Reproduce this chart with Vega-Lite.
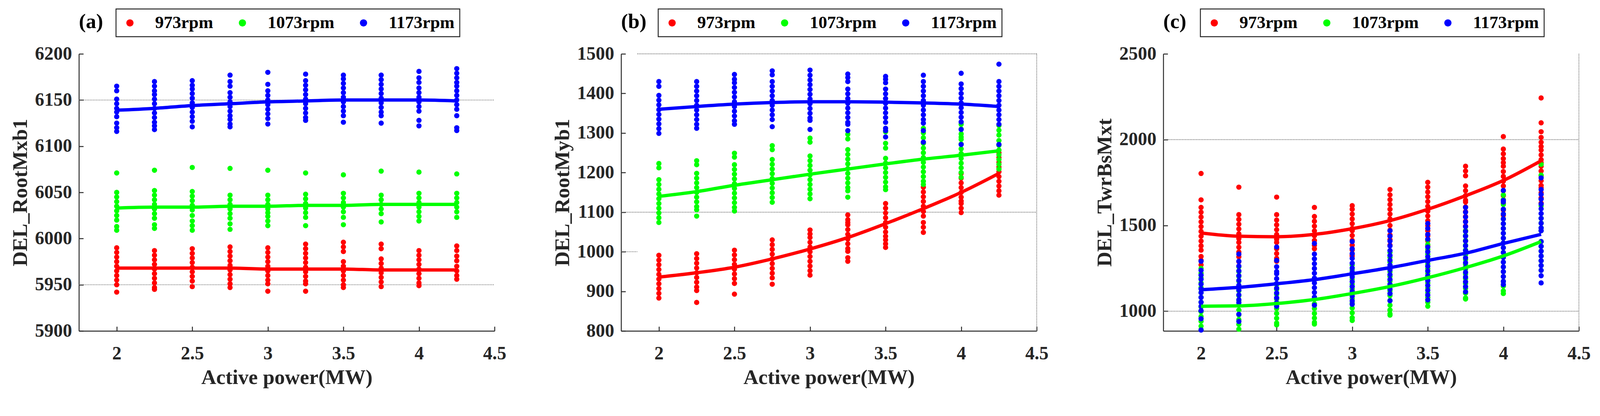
{
"$schema": "https://vega.github.io/schema/vega-lite/v6.json",
"background": "white",
"padding": {"left": 25, "top": 21, "right": 10, "bottom": 10},
"config": {
  "font": "Liberation Serif",
  "view": {"stroke": null},
  "axis": {"domainColor": "#262626", "domainWidth": 2.4, "tickColor": "#262626", "tickWidth": 2.4, "tickSize": -11.4, "labelFont": "Liberation Serif", "labelFontWeight": "bold", "labelFontSize": 47.5, "labelColor": "#262626", "titleFont": "Liberation Serif", "titleFontWeight": "bold", "titleFontSize": 53.2, "titleColor": "#262626", "grid": false, "labelFlush": false, "labelOverlap": false},
  "axisX": {"labelPadding": 45.6, "titlePadding": 11.4, "format": ".1~f"},
  "axisY": {"labelPadding": 29.5, "titlePadding": 9.5, "format": "d"},
  "legend": {"orient": "none", "direction": "horizontal", "legendX": 95, "legendY": -115, "padding": 13.3, "strokeColor": "#262626", "strokeWidth": 2.4, "fillColor": "white", "symbolType": "circle", "symbolSize": 343, "symbolStrokeWidth": 0, "symbolOpacity": 1, "labelFont": "Liberation Serif", "labelFontWeight": "bold", "labelFontSize": 44.6, "labelColor": "black", "labelOffset": 42, "columnPadding": 52, "labelLimit": 0, "title": null},
  "title": {"font": "Liberation Serif", "fontWeight": "bold", "fontSize": 53, "color": "black", "anchor": "start", "frame": "group", "baseline": "alphabetic", "offset": -61}
},
"datasets": {
"grid": [
{"p":"a","x1":1.75,"x2":4.5,"y1":6150,"y2":6150},
{"p":"a","x1":1.75,"x2":4.5,"y1":5950,"y2":5950},
{"p":"b","x1":1.857,"x2":4.5,"y1":1500,"y2":1500},
{"p":"b","x1":1.75,"x2":4.5,"y1":1100,"y2":1100},
{"p":"b","x1":1.75,"x2":1.857,"y1":1000,"y2":1000},
{"p":"b","x1":4.5,"x2":4.5,"y1":800,"y2":1500},
{"p":"c","x1":1.75,"x2":4.5,"y1":2000,"y2":2000},
{"p":"c","x1":1.75,"x2":4.5,"y1":1000,"y2":1000},
{"p":"c","x1":4.5,"x2":4.5,"y1":885,"y2":2500}
],
"fit": [
{"p":"a","s":"973rpm","x":2,"y":5968},{"p":"a","s":"973rpm","x":2.25,"y":5968},{"p":"a","s":"973rpm","x":2.5,"y":5968},{"p":"a","s":"973rpm","x":2.75,"y":5968},{"p":"a","s":"973rpm","x":3,"y":5967},{"p":"a","s":"973rpm","x":3.25,"y":5967},{"p":"a","s":"973rpm","x":3.5,"y":5967},{"p":"a","s":"973rpm","x":3.75,"y":5966},{"p":"a","s":"973rpm","x":4,"y":5966},{"p":"a","s":"973rpm","x":4.25,"y":5966},
{"p":"a","s":"1073rpm","x":2,"y":6033},{"p":"a","s":"1073rpm","x":2.25,"y":6034},{"p":"a","s":"1073rpm","x":2.5,"y":6034},{"p":"a","s":"1073rpm","x":2.75,"y":6035},{"p":"a","s":"1073rpm","x":3,"y":6035},{"p":"a","s":"1073rpm","x":3.25,"y":6036},{"p":"a","s":"1073rpm","x":3.5,"y":6036},{"p":"a","s":"1073rpm","x":3.75,"y":6037},{"p":"a","s":"1073rpm","x":4,"y":6037},{"p":"a","s":"1073rpm","x":4.25,"y":6037},
{"p":"a","s":"1173rpm","x":2,"y":6139},{"p":"a","s":"1173rpm","x":2.25,"y":6141},{"p":"a","s":"1173rpm","x":2.5,"y":6144},{"p":"a","s":"1173rpm","x":2.75,"y":6146},{"p":"a","s":"1173rpm","x":3,"y":6148},{"p":"a","s":"1173rpm","x":3.25,"y":6149},{"p":"a","s":"1173rpm","x":3.5,"y":6150},{"p":"a","s":"1173rpm","x":3.75,"y":6150},{"p":"a","s":"1173rpm","x":4,"y":6150},{"p":"a","s":"1173rpm","x":4.25,"y":6149},
{"p":"b","s":"973rpm","x":2,"y":936},{"p":"b","s":"973rpm","x":2.25,"y":947},{"p":"b","s":"973rpm","x":2.5,"y":961},{"p":"b","s":"973rpm","x":2.75,"y":982},{"p":"b","s":"973rpm","x":3,"y":1007},{"p":"b","s":"973rpm","x":3.25,"y":1036},{"p":"b","s":"973rpm","x":3.5,"y":1071},{"p":"b","s":"973rpm","x":3.75,"y":1109},{"p":"b","s":"973rpm","x":4,"y":1150},{"p":"b","s":"973rpm","x":4.25,"y":1198},
{"p":"b","s":"1073rpm","x":2,"y":1140},{"p":"b","s":"1073rpm","x":2.25,"y":1152},{"p":"b","s":"1073rpm","x":2.5,"y":1168},{"p":"b","s":"1073rpm","x":2.75,"y":1182},{"p":"b","s":"1073rpm","x":3,"y":1196},{"p":"b","s":"1073rpm","x":3.25,"y":1209},{"p":"b","s":"1073rpm","x":3.5,"y":1222},{"p":"b","s":"1073rpm","x":3.75,"y":1234},{"p":"b","s":"1073rpm","x":4,"y":1244},{"p":"b","s":"1073rpm","x":4.25,"y":1255},
{"p":"b","s":"1173rpm","x":2,"y":1360},{"p":"b","s":"1173rpm","x":2.25,"y":1367},{"p":"b","s":"1173rpm","x":2.5,"y":1373},{"p":"b","s":"1173rpm","x":2.75,"y":1377},{"p":"b","s":"1173rpm","x":3,"y":1379},{"p":"b","s":"1173rpm","x":3.25,"y":1379},{"p":"b","s":"1173rpm","x":3.5,"y":1378},{"p":"b","s":"1173rpm","x":3.75,"y":1376},{"p":"b","s":"1173rpm","x":4,"y":1373},{"p":"b","s":"1173rpm","x":4.25,"y":1367},
{"p":"c","s":"973rpm","x":2,"y":1456},{"p":"c","s":"973rpm","x":2.25,"y":1437},{"p":"c","s":"973rpm","x":2.5,"y":1434},{"p":"c","s":"973rpm","x":2.75,"y":1448},{"p":"c","s":"973rpm","x":3,"y":1481},{"p":"c","s":"973rpm","x":3.25,"y":1528},{"p":"c","s":"973rpm","x":3.5,"y":1594},{"p":"c","s":"973rpm","x":3.75,"y":1673},{"p":"c","s":"973rpm","x":4,"y":1762},{"p":"c","s":"973rpm","x":4.25,"y":1877},
{"p":"c","s":"1073rpm","x":2,"y":1029},{"p":"c","s":"1073rpm","x":2.25,"y":1031},{"p":"c","s":"1073rpm","x":2.5,"y":1045},{"p":"c","s":"1073rpm","x":2.75,"y":1068},{"p":"c","s":"1073rpm","x":3,"y":1103},{"p":"c","s":"1073rpm","x":3.25,"y":1144},{"p":"c","s":"1073rpm","x":3.5,"y":1195},{"p":"c","s":"1073rpm","x":3.75,"y":1254},{"p":"c","s":"1073rpm","x":4,"y":1322},{"p":"c","s":"1073rpm","x":4.25,"y":1406},
{"p":"c","s":"1173rpm","x":2,"y":1125},{"p":"c","s":"1173rpm","x":2.25,"y":1139},{"p":"c","s":"1173rpm","x":2.5,"y":1160},{"p":"c","s":"1173rpm","x":2.75,"y":1184},{"p":"c","s":"1173rpm","x":3,"y":1218},{"p":"c","s":"1173rpm","x":3.25,"y":1254},{"p":"c","s":"1173rpm","x":3.5,"y":1296},{"p":"c","s":"1173rpm","x":3.75,"y":1338},{"p":"c","s":"1173rpm","x":4,"y":1395},{"p":"c","s":"1173rpm","x":4.25,"y":1448}
],
"pts": [
{"p":"a","s":"973rpm","x":2,"y":5990},{"p":"a","s":"973rpm","x":2,"y":5985},{"p":"a","s":"973rpm","x":2,"y":5980},{"p":"a","s":"973rpm","x":2,"y":5975},{"p":"a","s":"973rpm","x":2,"y":5970},{"p":"a","s":"973rpm","x":2,"y":5965},{"p":"a","s":"973rpm","x":2,"y":5960},{"p":"a","s":"973rpm","x":2,"y":5955},{"p":"a","s":"973rpm","x":2,"y":5950},{"p":"a","s":"973rpm","x":2,"y":5942},
{"p":"a","s":"973rpm","x":2.25,"y":5987},{"p":"a","s":"973rpm","x":2.25,"y":5982},{"p":"a","s":"973rpm","x":2.25,"y":5977},{"p":"a","s":"973rpm","x":2.25,"y":5972},{"p":"a","s":"973rpm","x":2.25,"y":5967},{"p":"a","s":"973rpm","x":2.25,"y":5962},{"p":"a","s":"973rpm","x":2.25,"y":5957},{"p":"a","s":"973rpm","x":2.25,"y":5952},{"p":"a","s":"973rpm","x":2.25,"y":5947},{"p":"a","s":"973rpm","x":2.25,"y":5945},
{"p":"a","s":"973rpm","x":2.5,"y":5989},{"p":"a","s":"973rpm","x":2.5,"y":5984},{"p":"a","s":"973rpm","x":2.5,"y":5979},{"p":"a","s":"973rpm","x":2.5,"y":5974},{"p":"a","s":"973rpm","x":2.5,"y":5969},{"p":"a","s":"973rpm","x":2.5,"y":5964},{"p":"a","s":"973rpm","x":2.5,"y":5959},{"p":"a","s":"973rpm","x":2.5,"y":5954},{"p":"a","s":"973rpm","x":2.5,"y":5948},
{"p":"a","s":"973rpm","x":2.75,"y":5991},{"p":"a","s":"973rpm","x":2.75,"y":5986},{"p":"a","s":"973rpm","x":2.75,"y":5981},{"p":"a","s":"973rpm","x":2.75,"y":5976},{"p":"a","s":"973rpm","x":2.75,"y":5971},{"p":"a","s":"973rpm","x":2.75,"y":5966},{"p":"a","s":"973rpm","x":2.75,"y":5961},{"p":"a","s":"973rpm","x":2.75,"y":5956},{"p":"a","s":"973rpm","x":2.75,"y":5951},{"p":"a","s":"973rpm","x":2.75,"y":5947},
{"p":"a","s":"973rpm","x":3,"y":5990},{"p":"a","s":"973rpm","x":3,"y":5985},{"p":"a","s":"973rpm","x":3,"y":5980},{"p":"a","s":"973rpm","x":3,"y":5975},{"p":"a","s":"973rpm","x":3,"y":5970},{"p":"a","s":"973rpm","x":3,"y":5965},{"p":"a","s":"973rpm","x":3,"y":5960},{"p":"a","s":"973rpm","x":3,"y":5955},{"p":"a","s":"973rpm","x":3,"y":5951},{"p":"a","s":"973rpm","x":3,"y":5943},
{"p":"a","s":"973rpm","x":3.25,"y":5994},{"p":"a","s":"973rpm","x":3.25,"y":5989},{"p":"a","s":"973rpm","x":3.25,"y":5984},{"p":"a","s":"973rpm","x":3.25,"y":5979},{"p":"a","s":"973rpm","x":3.25,"y":5974},{"p":"a","s":"973rpm","x":3.25,"y":5969},{"p":"a","s":"973rpm","x":3.25,"y":5964},{"p":"a","s":"973rpm","x":3.25,"y":5959},{"p":"a","s":"973rpm","x":3.25,"y":5954},{"p":"a","s":"973rpm","x":3.25,"y":5951},{"p":"a","s":"973rpm","x":3.25,"y":5943},
{"p":"a","s":"973rpm","x":3.5,"y":5996},{"p":"a","s":"973rpm","x":3.5,"y":5991},{"p":"a","s":"973rpm","x":3.5,"y":5986},{"p":"a","s":"973rpm","x":3.5,"y":5975},{"p":"a","s":"973rpm","x":3.5,"y":5970},{"p":"a","s":"973rpm","x":3.5,"y":5965},{"p":"a","s":"973rpm","x":3.5,"y":5960},{"p":"a","s":"973rpm","x":3.5,"y":5955},{"p":"a","s":"973rpm","x":3.5,"y":5950},{"p":"a","s":"973rpm","x":3.5,"y":5947},
{"p":"a","s":"973rpm","x":3.75,"y":5994},{"p":"a","s":"973rpm","x":3.75,"y":5989},{"p":"a","s":"973rpm","x":3.75,"y":5978},{"p":"a","s":"973rpm","x":3.75,"y":5973},{"p":"a","s":"973rpm","x":3.75,"y":5968},{"p":"a","s":"973rpm","x":3.75,"y":5963},{"p":"a","s":"973rpm","x":3.75,"y":5958},{"p":"a","s":"973rpm","x":3.75,"y":5953},{"p":"a","s":"973rpm","x":3.75,"y":5948},
{"p":"a","s":"973rpm","x":4,"y":5987},{"p":"a","s":"973rpm","x":4,"y":5982},{"p":"a","s":"973rpm","x":4,"y":5977},{"p":"a","s":"973rpm","x":4,"y":5972},{"p":"a","s":"973rpm","x":4,"y":5967},{"p":"a","s":"973rpm","x":4,"y":5962},{"p":"a","s":"973rpm","x":4,"y":5957},{"p":"a","s":"973rpm","x":4,"y":5952},{"p":"a","s":"973rpm","x":4,"y":5949},
{"p":"a","s":"973rpm","x":4.25,"y":5992},{"p":"a","s":"973rpm","x":4.25,"y":5987},{"p":"a","s":"973rpm","x":4.25,"y":5981},{"p":"a","s":"973rpm","x":4.25,"y":5976},{"p":"a","s":"973rpm","x":4.25,"y":5970},{"p":"a","s":"973rpm","x":4.25,"y":5965},{"p":"a","s":"973rpm","x":4.25,"y":5960},{"p":"a","s":"973rpm","x":4.25,"y":5956},
{"p":"b","s":"973rpm","x":2,"y":991},{"p":"b","s":"973rpm","x":2,"y":979},{"p":"b","s":"973rpm","x":2,"y":967},{"p":"b","s":"973rpm","x":2,"y":955},{"p":"b","s":"973rpm","x":2,"y":943},{"p":"b","s":"973rpm","x":2,"y":931},{"p":"b","s":"973rpm","x":2,"y":919},{"p":"b","s":"973rpm","x":2,"y":907},{"p":"b","s":"973rpm","x":2,"y":895},{"p":"b","s":"973rpm","x":2,"y":883},
{"p":"b","s":"973rpm","x":2.25,"y":995},{"p":"b","s":"973rpm","x":2.25,"y":983},{"p":"b","s":"973rpm","x":2.25,"y":971},{"p":"b","s":"973rpm","x":2.25,"y":959},{"p":"b","s":"973rpm","x":2.25,"y":947},{"p":"b","s":"973rpm","x":2.25,"y":935},{"p":"b","s":"973rpm","x":2.25,"y":923},{"p":"b","s":"973rpm","x":2.25,"y":911},{"p":"b","s":"973rpm","x":2.25,"y":902},{"p":"b","s":"973rpm","x":2.25,"y":872},
{"p":"b","s":"973rpm","x":2.5,"y":1004},{"p":"b","s":"973rpm","x":2.5,"y":992},{"p":"b","s":"973rpm","x":2.5,"y":980},{"p":"b","s":"973rpm","x":2.5,"y":968},{"p":"b","s":"973rpm","x":2.5,"y":956},{"p":"b","s":"973rpm","x":2.5,"y":944},{"p":"b","s":"973rpm","x":2.5,"y":932},{"p":"b","s":"973rpm","x":2.5,"y":920},{"p":"b","s":"973rpm","x":2.5,"y":893},
{"p":"b","s":"973rpm","x":2.75,"y":1030},{"p":"b","s":"973rpm","x":2.75,"y":1018},{"p":"b","s":"973rpm","x":2.75,"y":1006},{"p":"b","s":"973rpm","x":2.75,"y":994},{"p":"b","s":"973rpm","x":2.75,"y":982},{"p":"b","s":"973rpm","x":2.75,"y":970},{"p":"b","s":"973rpm","x":2.75,"y":958},{"p":"b","s":"973rpm","x":2.75,"y":946},{"p":"b","s":"973rpm","x":2.75,"y":934},{"p":"b","s":"973rpm","x":2.75,"y":918},
{"p":"b","s":"973rpm","x":3,"y":1055},{"p":"b","s":"973rpm","x":3,"y":1045},{"p":"b","s":"973rpm","x":3,"y":1036},{"p":"b","s":"973rpm","x":3,"y":1024},{"p":"b","s":"973rpm","x":3,"y":1012},{"p":"b","s":"973rpm","x":3,"y":1000},{"p":"b","s":"973rpm","x":3,"y":988},{"p":"b","s":"973rpm","x":3,"y":976},{"p":"b","s":"973rpm","x":3,"y":964},{"p":"b","s":"973rpm","x":3,"y":952},{"p":"b","s":"973rpm","x":3,"y":941},
{"p":"b","s":"973rpm","x":3.25,"y":1093},{"p":"b","s":"973rpm","x":3.25,"y":1081},{"p":"b","s":"973rpm","x":3.25,"y":1074},{"p":"b","s":"973rpm","x":3.25,"y":1068},{"p":"b","s":"973rpm","x":3.25,"y":1056},{"p":"b","s":"973rpm","x":3.25,"y":1044},{"p":"b","s":"973rpm","x":3.25,"y":1032},{"p":"b","s":"973rpm","x":3.25,"y":1020},{"p":"b","s":"973rpm","x":3.25,"y":1008},{"p":"b","s":"973rpm","x":3.25,"y":1001},{"p":"b","s":"973rpm","x":3.25,"y":985},{"p":"b","s":"973rpm","x":3.25,"y":976},
{"p":"b","s":"973rpm","x":3.5,"y":1122},{"p":"b","s":"973rpm","x":3.5,"y":1110},{"p":"b","s":"973rpm","x":3.5,"y":1098},{"p":"b","s":"973rpm","x":3.5,"y":1086},{"p":"b","s":"973rpm","x":3.5,"y":1074},{"p":"b","s":"973rpm","x":3.5,"y":1062},{"p":"b","s":"973rpm","x":3.5,"y":1050},{"p":"b","s":"973rpm","x":3.5,"y":1039},{"p":"b","s":"973rpm","x":3.5,"y":1030},{"p":"b","s":"973rpm","x":3.5,"y":1020},{"p":"b","s":"973rpm","x":3.5,"y":1011},
{"p":"b","s":"973rpm","x":3.75,"y":1163},{"p":"b","s":"973rpm","x":3.75,"y":1151},{"p":"b","s":"973rpm","x":3.75,"y":1139},{"p":"b","s":"973rpm","x":3.75,"y":1127},{"p":"b","s":"973rpm","x":3.75,"y":1115},{"p":"b","s":"973rpm","x":3.75,"y":1102},{"p":"b","s":"973rpm","x":3.75,"y":1090},{"p":"b","s":"973rpm","x":3.75,"y":1074},{"p":"b","s":"973rpm","x":3.75,"y":1062},{"p":"b","s":"973rpm","x":3.75,"y":1049},
{"p":"b","s":"973rpm","x":4,"y":1198},{"p":"b","s":"973rpm","x":4,"y":1186},{"p":"b","s":"973rpm","x":4,"y":1174},{"p":"b","s":"973rpm","x":4,"y":1162},{"p":"b","s":"973rpm","x":4,"y":1150},{"p":"b","s":"973rpm","x":4,"y":1138},{"p":"b","s":"973rpm","x":4,"y":1128},{"p":"b","s":"973rpm","x":4,"y":1122},{"p":"b","s":"973rpm","x":4,"y":1110},{"p":"b","s":"973rpm","x":4,"y":1099},
{"p":"b","s":"973rpm","x":4.25,"y":1250},{"p":"b","s":"973rpm","x":4.25,"y":1238},{"p":"b","s":"973rpm","x":4.25,"y":1226},{"p":"b","s":"973rpm","x":4.25,"y":1214},{"p":"b","s":"973rpm","x":4.25,"y":1202},{"p":"b","s":"973rpm","x":4.25,"y":1190},{"p":"b","s":"973rpm","x":4.25,"y":1178},{"p":"b","s":"973rpm","x":4.25,"y":1166},{"p":"b","s":"973rpm","x":4.25,"y":1154},{"p":"b","s":"973rpm","x":4.25,"y":1143},
{"p":"c","s":"973rpm","x":2,"y":1803},{"p":"c","s":"973rpm","x":2,"y":1649},{"p":"c","s":"973rpm","x":2,"y":1605},{"p":"c","s":"973rpm","x":2,"y":1577},{"p":"c","s":"973rpm","x":2,"y":1549},{"p":"c","s":"973rpm","x":2,"y":1521},{"p":"c","s":"973rpm","x":2,"y":1493},{"p":"c","s":"973rpm","x":2,"y":1465},{"p":"c","s":"973rpm","x":2,"y":1437},{"p":"c","s":"973rpm","x":2,"y":1409},{"p":"c","s":"973rpm","x":2,"y":1381},{"p":"c","s":"973rpm","x":2,"y":1356},{"p":"c","s":"973rpm","x":2,"y":1319},{"p":"c","s":"973rpm","x":2,"y":1296},{"p":"c","s":"973rpm","x":2,"y":1270},
{"p":"c","s":"973rpm","x":2.25,"y":1723},{"p":"c","s":"973rpm","x":2.25,"y":1563},{"p":"c","s":"973rpm","x":2.25,"y":1535},{"p":"c","s":"973rpm","x":2.25,"y":1507},{"p":"c","s":"973rpm","x":2.25,"y":1479},{"p":"c","s":"973rpm","x":2.25,"y":1451},{"p":"c","s":"973rpm","x":2.25,"y":1423},{"p":"c","s":"973rpm","x":2.25,"y":1401},{"p":"c","s":"973rpm","x":2.25,"y":1373},{"p":"c","s":"973rpm","x":2.25,"y":1345},{"p":"c","s":"973rpm","x":2.25,"y":1317},{"p":"c","s":"973rpm","x":2.25,"y":1289},{"p":"c","s":"973rpm","x":2.25,"y":1261},
{"p":"c","s":"973rpm","x":2.5,"y":1665},{"p":"c","s":"973rpm","x":2.5,"y":1563},{"p":"c","s":"973rpm","x":2.5,"y":1531},{"p":"c","s":"973rpm","x":2.5,"y":1503},{"p":"c","s":"973rpm","x":2.5,"y":1475},{"p":"c","s":"973rpm","x":2.5,"y":1447},{"p":"c","s":"973rpm","x":2.5,"y":1419},{"p":"c","s":"973rpm","x":2.5,"y":1401},{"p":"c","s":"973rpm","x":2.5,"y":1364},{"p":"c","s":"973rpm","x":2.5,"y":1336},{"p":"c","s":"973rpm","x":2.5,"y":1308},{"p":"c","s":"973rpm","x":2.5,"y":1291},
{"p":"c","s":"973rpm","x":2.75,"y":1605},{"p":"c","s":"973rpm","x":2.75,"y":1552},{"p":"c","s":"973rpm","x":2.75,"y":1524},{"p":"c","s":"973rpm","x":2.75,"y":1496},{"p":"c","s":"973rpm","x":2.75,"y":1468},{"p":"c","s":"973rpm","x":2.75,"y":1440},{"p":"c","s":"973rpm","x":2.75,"y":1412},{"p":"c","s":"973rpm","x":2.75,"y":1384},{"p":"c","s":"973rpm","x":2.75,"y":1364},
{"p":"c","s":"973rpm","x":3,"y":1615},{"p":"c","s":"973rpm","x":3,"y":1594},{"p":"c","s":"973rpm","x":3,"y":1566},{"p":"c","s":"973rpm","x":3,"y":1538},{"p":"c","s":"973rpm","x":3,"y":1510},{"p":"c","s":"973rpm","x":3,"y":1482},{"p":"c","s":"973rpm","x":3,"y":1469},{"p":"c","s":"973rpm","x":3,"y":1441},{"p":"c","s":"973rpm","x":3,"y":1413},{"p":"c","s":"973rpm","x":3,"y":1385},{"p":"c","s":"973rpm","x":3,"y":1357},{"p":"c","s":"973rpm","x":3,"y":1329},{"p":"c","s":"973rpm","x":3,"y":1322},
{"p":"c","s":"973rpm","x":3.25,"y":1709},{"p":"c","s":"973rpm","x":3.25,"y":1678},{"p":"c","s":"973rpm","x":3.25,"y":1650},{"p":"c","s":"973rpm","x":3.25,"y":1622},{"p":"c","s":"973rpm","x":3.25,"y":1594},{"p":"c","s":"973rpm","x":3.25,"y":1566},{"p":"c","s":"973rpm","x":3.25,"y":1538},{"p":"c","s":"973rpm","x":3.25,"y":1531},{"p":"c","s":"973rpm","x":3.25,"y":1500},{"p":"c","s":"973rpm","x":3.25,"y":1472},{"p":"c","s":"973rpm","x":3.25,"y":1444},{"p":"c","s":"973rpm","x":3.25,"y":1416},{"p":"c","s":"973rpm","x":3.25,"y":1385},
{"p":"c","s":"973rpm","x":3.5,"y":1751},{"p":"c","s":"973rpm","x":3.5,"y":1723},{"p":"c","s":"973rpm","x":3.5,"y":1695},{"p":"c","s":"973rpm","x":3.5,"y":1667},{"p":"c","s":"973rpm","x":3.5,"y":1639},{"p":"c","s":"973rpm","x":3.5,"y":1611},{"p":"c","s":"973rpm","x":3.5,"y":1583},{"p":"c","s":"973rpm","x":3.5,"y":1555},{"p":"c","s":"973rpm","x":3.5,"y":1527},{"p":"c","s":"973rpm","x":3.5,"y":1499},{"p":"c","s":"973rpm","x":3.5,"y":1469},{"p":"c","s":"973rpm","x":3.5,"y":1440},{"p":"c","s":"973rpm","x":3.5,"y":1410},{"p":"c","s":"973rpm","x":3.5,"y":1380},
{"p":"c","s":"973rpm","x":3.75,"y":1845},{"p":"c","s":"973rpm","x":3.75,"y":1817},{"p":"c","s":"973rpm","x":3.75,"y":1789},{"p":"c","s":"973rpm","x":3.75,"y":1730},{"p":"c","s":"973rpm","x":3.75,"y":1702},{"p":"c","s":"973rpm","x":3.75,"y":1674},{"p":"c","s":"973rpm","x":3.75,"y":1647},{"p":"c","s":"973rpm","x":3.75,"y":1636},{"p":"c","s":"973rpm","x":3.75,"y":1608},{"p":"c","s":"973rpm","x":3.75,"y":1580},{"p":"c","s":"973rpm","x":3.75,"y":1552},{"p":"c","s":"973rpm","x":3.75,"y":1524},{"p":"c","s":"973rpm","x":3.75,"y":1496},{"p":"c","s":"973rpm","x":3.75,"y":1469},{"p":"c","s":"973rpm","x":3.75,"y":1440},{"p":"c","s":"973rpm","x":3.75,"y":1410},
{"p":"c","s":"973rpm","x":4,"y":2018},{"p":"c","s":"973rpm","x":4,"y":1945},{"p":"c","s":"973rpm","x":4,"y":1917},{"p":"c","s":"973rpm","x":4,"y":1889},{"p":"c","s":"973rpm","x":4,"y":1866},{"p":"c","s":"973rpm","x":4,"y":1845},{"p":"c","s":"973rpm","x":4,"y":1814},{"p":"c","s":"973rpm","x":4,"y":1786},{"p":"c","s":"973rpm","x":4,"y":1758},{"p":"c","s":"973rpm","x":4,"y":1730},{"p":"c","s":"973rpm","x":4,"y":1702},{"p":"c","s":"973rpm","x":4,"y":1674},{"p":"c","s":"973rpm","x":4,"y":1646},{"p":"c","s":"973rpm","x":4,"y":1626},{"p":"c","s":"973rpm","x":4,"y":1590},{"p":"c","s":"973rpm","x":4,"y":1560},
{"p":"c","s":"973rpm","x":4.25,"y":2243},{"p":"c","s":"973rpm","x":4.25,"y":2098},{"p":"c","s":"973rpm","x":4.25,"y":2046},{"p":"c","s":"973rpm","x":4.25,"y":2013},{"p":"c","s":"973rpm","x":4.25,"y":1985},{"p":"c","s":"973rpm","x":4.25,"y":1960},{"p":"c","s":"973rpm","x":4.25,"y":1939},{"p":"c","s":"973rpm","x":4.25,"y":1911},{"p":"c","s":"973rpm","x":4.25,"y":1883},{"p":"c","s":"973rpm","x":4.25,"y":1866},{"p":"c","s":"973rpm","x":4.25,"y":1845},{"p":"c","s":"973rpm","x":4.25,"y":1817},{"p":"c","s":"973rpm","x":4.25,"y":1789},{"p":"c","s":"973rpm","x":4.25,"y":1761},{"p":"c","s":"973rpm","x":4.25,"y":1733},{"p":"c","s":"973rpm","x":4.25,"y":1720},{"p":"c","s":"973rpm","x":4.25,"y":1690},{"p":"c","s":"973rpm","x":4.25,"y":1660},{"p":"c","s":"973rpm","x":4.25,"y":1630},
{"p":"a","s":"1073rpm","x":2,"y":6071},{"p":"a","s":"1073rpm","x":2,"y":6050},{"p":"a","s":"1073rpm","x":2,"y":6045},{"p":"a","s":"1073rpm","x":2,"y":6040},{"p":"a","s":"1073rpm","x":2,"y":6035},{"p":"a","s":"1073rpm","x":2,"y":6030},{"p":"a","s":"1073rpm","x":2,"y":6025},{"p":"a","s":"1073rpm","x":2,"y":6020},{"p":"a","s":"1073rpm","x":2,"y":6013},{"p":"a","s":"1073rpm","x":2,"y":6009},
{"p":"a","s":"1073rpm","x":2.25,"y":6074},{"p":"a","s":"1073rpm","x":2.25,"y":6052},{"p":"a","s":"1073rpm","x":2.25,"y":6047},{"p":"a","s":"1073rpm","x":2.25,"y":6042},{"p":"a","s":"1073rpm","x":2.25,"y":6037},{"p":"a","s":"1073rpm","x":2.25,"y":6032},{"p":"a","s":"1073rpm","x":2.25,"y":6027},{"p":"a","s":"1073rpm","x":2.25,"y":6022},{"p":"a","s":"1073rpm","x":2.25,"y":6015},{"p":"a","s":"1073rpm","x":2.25,"y":6011},
{"p":"a","s":"1073rpm","x":2.5,"y":6077},{"p":"a","s":"1073rpm","x":2.5,"y":6051},{"p":"a","s":"1073rpm","x":2.5,"y":6046},{"p":"a","s":"1073rpm","x":2.5,"y":6041},{"p":"a","s":"1073rpm","x":2.5,"y":6036},{"p":"a","s":"1073rpm","x":2.5,"y":6031},{"p":"a","s":"1073rpm","x":2.5,"y":6025},{"p":"a","s":"1073rpm","x":2.5,"y":6019},{"p":"a","s":"1073rpm","x":2.5,"y":6014},{"p":"a","s":"1073rpm","x":2.5,"y":6009},
{"p":"a","s":"1073rpm","x":2.75,"y":6076},{"p":"a","s":"1073rpm","x":2.75,"y":6047},{"p":"a","s":"1073rpm","x":2.75,"y":6042},{"p":"a","s":"1073rpm","x":2.75,"y":6037},{"p":"a","s":"1073rpm","x":2.75,"y":6032},{"p":"a","s":"1073rpm","x":2.75,"y":6027},{"p":"a","s":"1073rpm","x":2.75,"y":6022},{"p":"a","s":"1073rpm","x":2.75,"y":6016},{"p":"a","s":"1073rpm","x":2.75,"y":6010},
{"p":"a","s":"1073rpm","x":3,"y":6074},{"p":"a","s":"1073rpm","x":3,"y":6047},{"p":"a","s":"1073rpm","x":3,"y":6042},{"p":"a","s":"1073rpm","x":3,"y":6037},{"p":"a","s":"1073rpm","x":3,"y":6032},{"p":"a","s":"1073rpm","x":3,"y":6028},{"p":"a","s":"1073rpm","x":3,"y":6024},{"p":"a","s":"1073rpm","x":3,"y":6019},{"p":"a","s":"1073rpm","x":3,"y":6014},
{"p":"a","s":"1073rpm","x":3.25,"y":6071},{"p":"a","s":"1073rpm","x":3.25,"y":6048},{"p":"a","s":"1073rpm","x":3.25,"y":6043},{"p":"a","s":"1073rpm","x":3.25,"y":6038},{"p":"a","s":"1073rpm","x":3.25,"y":6033},{"p":"a","s":"1073rpm","x":3.25,"y":6028},{"p":"a","s":"1073rpm","x":3.25,"y":6023},{"p":"a","s":"1073rpm","x":3.25,"y":6014},
{"p":"a","s":"1073rpm","x":3.5,"y":6069},{"p":"a","s":"1073rpm","x":3.5,"y":6049},{"p":"a","s":"1073rpm","x":3.5,"y":6044},{"p":"a","s":"1073rpm","x":3.5,"y":6039},{"p":"a","s":"1073rpm","x":3.5,"y":6034},{"p":"a","s":"1073rpm","x":3.5,"y":6029},{"p":"a","s":"1073rpm","x":3.5,"y":6023},{"p":"a","s":"1073rpm","x":3.5,"y":6015},
{"p":"a","s":"1073rpm","x":3.75,"y":6073},{"p":"a","s":"1073rpm","x":3.75,"y":6047},{"p":"a","s":"1073rpm","x":3.75,"y":6042},{"p":"a","s":"1073rpm","x":3.75,"y":6037},{"p":"a","s":"1073rpm","x":3.75,"y":6032},{"p":"a","s":"1073rpm","x":3.75,"y":6027},{"p":"a","s":"1073rpm","x":3.75,"y":6018},
{"p":"a","s":"1073rpm","x":4,"y":6072},{"p":"a","s":"1073rpm","x":4,"y":6049},{"p":"a","s":"1073rpm","x":4,"y":6044},{"p":"a","s":"1073rpm","x":4,"y":6039},{"p":"a","s":"1073rpm","x":4,"y":6034},{"p":"a","s":"1073rpm","x":4,"y":6029},{"p":"a","s":"1073rpm","x":4,"y":6024},{"p":"a","s":"1073rpm","x":4,"y":6019},
{"p":"a","s":"1073rpm","x":4.25,"y":6070},{"p":"a","s":"1073rpm","x":4.25,"y":6049},{"p":"a","s":"1073rpm","x":4.25,"y":6044},{"p":"a","s":"1073rpm","x":4.25,"y":6039},{"p":"a","s":"1073rpm","x":4.25,"y":6034},{"p":"a","s":"1073rpm","x":4.25,"y":6029},{"p":"a","s":"1073rpm","x":4.25,"y":6023},
{"p":"b","s":"1073rpm","x":2,"y":1223},{"p":"b","s":"1073rpm","x":2,"y":1212},{"p":"b","s":"1073rpm","x":2,"y":1182},{"p":"b","s":"1073rpm","x":2,"y":1170},{"p":"b","s":"1073rpm","x":2,"y":1158},{"p":"b","s":"1073rpm","x":2,"y":1146},{"p":"b","s":"1073rpm","x":2,"y":1134},{"p":"b","s":"1073rpm","x":2,"y":1122},{"p":"b","s":"1073rpm","x":2,"y":1110},{"p":"b","s":"1073rpm","x":2,"y":1098},{"p":"b","s":"1073rpm","x":2,"y":1086},{"p":"b","s":"1073rpm","x":2,"y":1074},
{"p":"b","s":"1073rpm","x":2.25,"y":1230},{"p":"b","s":"1073rpm","x":2.25,"y":1220},{"p":"b","s":"1073rpm","x":2.25,"y":1198},{"p":"b","s":"1073rpm","x":2.25,"y":1186},{"p":"b","s":"1073rpm","x":2.25,"y":1174},{"p":"b","s":"1073rpm","x":2.25,"y":1162},{"p":"b","s":"1073rpm","x":2.25,"y":1150},{"p":"b","s":"1073rpm","x":2.25,"y":1138},{"p":"b","s":"1073rpm","x":2.25,"y":1126},{"p":"b","s":"1073rpm","x":2.25,"y":1114},{"p":"b","s":"1073rpm","x":2.25,"y":1106},{"p":"b","s":"1073rpm","x":2.25,"y":1090},
{"p":"b","s":"1073rpm","x":2.5,"y":1249},{"p":"b","s":"1073rpm","x":2.5,"y":1239},{"p":"b","s":"1073rpm","x":2.5,"y":1220},{"p":"b","s":"1073rpm","x":2.5,"y":1208},{"p":"b","s":"1073rpm","x":2.5,"y":1196},{"p":"b","s":"1073rpm","x":2.5,"y":1184},{"p":"b","s":"1073rpm","x":2.5,"y":1172},{"p":"b","s":"1073rpm","x":2.5,"y":1160},{"p":"b","s":"1073rpm","x":2.5,"y":1148},{"p":"b","s":"1073rpm","x":2.5,"y":1136},{"p":"b","s":"1073rpm","x":2.5,"y":1124},{"p":"b","s":"1073rpm","x":2.5,"y":1112},{"p":"b","s":"1073rpm","x":2.5,"y":1103},
{"p":"b","s":"1073rpm","x":2.75,"y":1268},{"p":"b","s":"1073rpm","x":2.75,"y":1258},{"p":"b","s":"1073rpm","x":2.75,"y":1233},{"p":"b","s":"1073rpm","x":2.75,"y":1221},{"p":"b","s":"1073rpm","x":2.75,"y":1209},{"p":"b","s":"1073rpm","x":2.75,"y":1197},{"p":"b","s":"1073rpm","x":2.75,"y":1185},{"p":"b","s":"1073rpm","x":2.75,"y":1173},{"p":"b","s":"1073rpm","x":2.75,"y":1161},{"p":"b","s":"1073rpm","x":2.75,"y":1149},{"p":"b","s":"1073rpm","x":2.75,"y":1137},{"p":"b","s":"1073rpm","x":2.75,"y":1125},
{"p":"b","s":"1073rpm","x":3,"y":1287},{"p":"b","s":"1073rpm","x":3,"y":1277},{"p":"b","s":"1073rpm","x":3,"y":1242},{"p":"b","s":"1073rpm","x":3,"y":1230},{"p":"b","s":"1073rpm","x":3,"y":1218},{"p":"b","s":"1073rpm","x":3,"y":1206},{"p":"b","s":"1073rpm","x":3,"y":1194},{"p":"b","s":"1073rpm","x":3,"y":1182},{"p":"b","s":"1073rpm","x":3,"y":1170},{"p":"b","s":"1073rpm","x":3,"y":1158},{"p":"b","s":"1073rpm","x":3,"y":1146},{"p":"b","s":"1073rpm","x":3,"y":1134},
{"p":"b","s":"1073rpm","x":3.25,"y":1297},{"p":"b","s":"1073rpm","x":3.25,"y":1285},{"p":"b","s":"1073rpm","x":3.25,"y":1258},{"p":"b","s":"1073rpm","x":3.25,"y":1246},{"p":"b","s":"1073rpm","x":3.25,"y":1234},{"p":"b","s":"1073rpm","x":3.25,"y":1222},{"p":"b","s":"1073rpm","x":3.25,"y":1210},{"p":"b","s":"1073rpm","x":3.25,"y":1198},{"p":"b","s":"1073rpm","x":3.25,"y":1186},{"p":"b","s":"1073rpm","x":3.25,"y":1174},{"p":"b","s":"1073rpm","x":3.25,"y":1162},{"p":"b","s":"1073rpm","x":3.25,"y":1154},{"p":"b","s":"1073rpm","x":3.25,"y":1138},
{"p":"b","s":"1073rpm","x":3.5,"y":1303},{"p":"b","s":"1073rpm","x":3.5,"y":1274},{"p":"b","s":"1073rpm","x":3.5,"y":1262},{"p":"b","s":"1073rpm","x":3.5,"y":1236},{"p":"b","s":"1073rpm","x":3.5,"y":1224},{"p":"b","s":"1073rpm","x":3.5,"y":1212},{"p":"b","s":"1073rpm","x":3.5,"y":1200},{"p":"b","s":"1073rpm","x":3.5,"y":1188},{"p":"b","s":"1073rpm","x":3.5,"y":1176},{"p":"b","s":"1073rpm","x":3.5,"y":1164},{"p":"b","s":"1073rpm","x":3.5,"y":1157},
{"p":"b","s":"1073rpm","x":3.75,"y":1312},{"p":"b","s":"1073rpm","x":3.75,"y":1300},{"p":"b","s":"1073rpm","x":3.75,"y":1288},{"p":"b","s":"1073rpm","x":3.75,"y":1274},{"p":"b","s":"1073rpm","x":3.75,"y":1262},{"p":"b","s":"1073rpm","x":3.75,"y":1250},{"p":"b","s":"1073rpm","x":3.75,"y":1238},{"p":"b","s":"1073rpm","x":3.75,"y":1226},{"p":"b","s":"1073rpm","x":3.75,"y":1214},{"p":"b","s":"1073rpm","x":3.75,"y":1202},{"p":"b","s":"1073rpm","x":3.75,"y":1190},{"p":"b","s":"1073rpm","x":3.75,"y":1178},{"p":"b","s":"1073rpm","x":3.75,"y":1170},
{"p":"b","s":"1073rpm","x":4,"y":1322},{"p":"b","s":"1073rpm","x":4,"y":1310},{"p":"b","s":"1073rpm","x":4,"y":1298},{"p":"b","s":"1073rpm","x":4,"y":1290},{"p":"b","s":"1073rpm","x":4,"y":1284},{"p":"b","s":"1073rpm","x":4,"y":1272},{"p":"b","s":"1073rpm","x":4,"y":1260},{"p":"b","s":"1073rpm","x":4,"y":1248},{"p":"b","s":"1073rpm","x":4,"y":1236},{"p":"b","s":"1073rpm","x":4,"y":1224},{"p":"b","s":"1073rpm","x":4,"y":1212},{"p":"b","s":"1073rpm","x":4,"y":1200},{"p":"b","s":"1073rpm","x":4,"y":1188},
{"p":"b","s":"1073rpm","x":4.25,"y":1319},{"p":"b","s":"1073rpm","x":4.25,"y":1307},{"p":"b","s":"1073rpm","x":4.25,"y":1295},{"p":"b","s":"1073rpm","x":4.25,"y":1281},{"p":"b","s":"1073rpm","x":4.25,"y":1269},{"p":"b","s":"1073rpm","x":4.25,"y":1257},{"p":"b","s":"1073rpm","x":4.25,"y":1245},{"p":"b","s":"1073rpm","x":4.25,"y":1233},{"p":"b","s":"1073rpm","x":4.25,"y":1221},{"p":"b","s":"1073rpm","x":4.25,"y":1209},
{"p":"c","s":"1073rpm","x":2,"y":1249},{"p":"c","s":"1073rpm","x":2,"y":1221},{"p":"c","s":"1073rpm","x":2,"y":1193},{"p":"c","s":"1073rpm","x":2,"y":1165},{"p":"c","s":"1073rpm","x":2,"y":1137},{"p":"c","s":"1073rpm","x":2,"y":1109},{"p":"c","s":"1073rpm","x":2,"y":1081},{"p":"c","s":"1073rpm","x":2,"y":1053},{"p":"c","s":"1073rpm","x":2,"y":1025},{"p":"c","s":"1073rpm","x":2,"y":997},{"p":"c","s":"1073rpm","x":2,"y":969},{"p":"c","s":"1073rpm","x":2,"y":941},{"p":"c","s":"1073rpm","x":2,"y":913},{"p":"c","s":"1073rpm","x":2,"y":893},
{"p":"c","s":"1073rpm","x":2.25,"y":1259},{"p":"c","s":"1073rpm","x":2.25,"y":1231},{"p":"c","s":"1073rpm","x":2.25,"y":1203},{"p":"c","s":"1073rpm","x":2.25,"y":1175},{"p":"c","s":"1073rpm","x":2.25,"y":1147},{"p":"c","s":"1073rpm","x":2.25,"y":1119},{"p":"c","s":"1073rpm","x":2.25,"y":1091},{"p":"c","s":"1073rpm","x":2.25,"y":1063},{"p":"c","s":"1073rpm","x":2.25,"y":1035},{"p":"c","s":"1073rpm","x":2.25,"y":1007},{"p":"c","s":"1073rpm","x":2.25,"y":979},{"p":"c","s":"1073rpm","x":2.25,"y":951},{"p":"c","s":"1073rpm","x":2.25,"y":923},{"p":"c","s":"1073rpm","x":2.25,"y":895},
{"p":"c","s":"1073rpm","x":2.5,"y":1155},{"p":"c","s":"1073rpm","x":2.5,"y":1127},{"p":"c","s":"1073rpm","x":2.5,"y":1099},{"p":"c","s":"1073rpm","x":2.5,"y":1071},{"p":"c","s":"1073rpm","x":2.5,"y":1043},{"p":"c","s":"1073rpm","x":2.5,"y":1015},{"p":"c","s":"1073rpm","x":2.5,"y":987},{"p":"c","s":"1073rpm","x":2.5,"y":959},{"p":"c","s":"1073rpm","x":2.5,"y":931},{"p":"c","s":"1073rpm","x":2.5,"y":920},
{"p":"c","s":"1073rpm","x":2.75,"y":1071},{"p":"c","s":"1073rpm","x":2.75,"y":1043},{"p":"c","s":"1073rpm","x":2.75,"y":1015},{"p":"c","s":"1073rpm","x":2.75,"y":987},{"p":"c","s":"1073rpm","x":2.75,"y":960},{"p":"c","s":"1073rpm","x":2.75,"y":935},{"p":"c","s":"1073rpm","x":2.75,"y":925},
{"p":"c","s":"1073rpm","x":3,"y":1270},{"p":"c","s":"1073rpm","x":3,"y":1242},{"p":"c","s":"1073rpm","x":3,"y":1214},{"p":"c","s":"1073rpm","x":3,"y":1186},{"p":"c","s":"1073rpm","x":3,"y":1158},{"p":"c","s":"1073rpm","x":3,"y":1130},{"p":"c","s":"1073rpm","x":3,"y":1102},{"p":"c","s":"1073rpm","x":3,"y":1074},{"p":"c","s":"1073rpm","x":3,"y":1046},{"p":"c","s":"1073rpm","x":3,"y":1018},{"p":"c","s":"1073rpm","x":3,"y":990},{"p":"c","s":"1073rpm","x":3,"y":962},{"p":"c","s":"1073rpm","x":3,"y":946},
{"p":"c","s":"1073rpm","x":3.25,"y":1343},{"p":"c","s":"1073rpm","x":3.25,"y":1315},{"p":"c","s":"1073rpm","x":3.25,"y":1287},{"p":"c","s":"1073rpm","x":3.25,"y":1259},{"p":"c","s":"1073rpm","x":3.25,"y":1231},{"p":"c","s":"1073rpm","x":3.25,"y":1203},{"p":"c","s":"1073rpm","x":3.25,"y":1175},{"p":"c","s":"1073rpm","x":3.25,"y":1147},{"p":"c","s":"1073rpm","x":3.25,"y":1119},{"p":"c","s":"1073rpm","x":3.25,"y":1091},{"p":"c","s":"1073rpm","x":3.25,"y":1063},{"p":"c","s":"1073rpm","x":3.25,"y":1035},{"p":"c","s":"1073rpm","x":3.25,"y":1007},{"p":"c","s":"1073rpm","x":3.25,"y":985},{"p":"c","s":"1073rpm","x":3.25,"y":977},
{"p":"c","s":"1073rpm","x":3.5,"y":1416},{"p":"c","s":"1073rpm","x":3.5,"y":1388},{"p":"c","s":"1073rpm","x":3.5,"y":1360},{"p":"c","s":"1073rpm","x":3.5,"y":1332},{"p":"c","s":"1073rpm","x":3.5,"y":1304},{"p":"c","s":"1073rpm","x":3.5,"y":1276},{"p":"c","s":"1073rpm","x":3.5,"y":1248},{"p":"c","s":"1073rpm","x":3.5,"y":1220},{"p":"c","s":"1073rpm","x":3.5,"y":1192},{"p":"c","s":"1073rpm","x":3.5,"y":1164},{"p":"c","s":"1073rpm","x":3.5,"y":1136},{"p":"c","s":"1073rpm","x":3.5,"y":1108},{"p":"c","s":"1073rpm","x":3.5,"y":1080},{"p":"c","s":"1073rpm","x":3.5,"y":1052},{"p":"c","s":"1073rpm","x":3.5,"y":1029},
{"p":"c","s":"1073rpm","x":3.75,"y":1469},{"p":"c","s":"1073rpm","x":3.75,"y":1441},{"p":"c","s":"1073rpm","x":3.75,"y":1413},{"p":"c","s":"1073rpm","x":3.75,"y":1385},{"p":"c","s":"1073rpm","x":3.75,"y":1357},{"p":"c","s":"1073rpm","x":3.75,"y":1329},{"p":"c","s":"1073rpm","x":3.75,"y":1301},{"p":"c","s":"1073rpm","x":3.75,"y":1273},{"p":"c","s":"1073rpm","x":3.75,"y":1245},{"p":"c","s":"1073rpm","x":3.75,"y":1217},{"p":"c","s":"1073rpm","x":3.75,"y":1189},{"p":"c","s":"1073rpm","x":3.75,"y":1161},{"p":"c","s":"1073rpm","x":3.75,"y":1133},{"p":"c","s":"1073rpm","x":3.75,"y":1105},{"p":"c","s":"1073rpm","x":3.75,"y":1077},{"p":"c","s":"1073rpm","x":3.75,"y":1071},
{"p":"c","s":"1073rpm","x":4,"y":1678},{"p":"c","s":"1073rpm","x":4,"y":1650},{"p":"c","s":"1073rpm","x":4,"y":1622},{"p":"c","s":"1073rpm","x":4,"y":1594},{"p":"c","s":"1073rpm","x":4,"y":1566},{"p":"c","s":"1073rpm","x":4,"y":1538},{"p":"c","s":"1073rpm","x":4,"y":1510},{"p":"c","s":"1073rpm","x":4,"y":1482},{"p":"c","s":"1073rpm","x":4,"y":1454},{"p":"c","s":"1073rpm","x":4,"y":1426},{"p":"c","s":"1073rpm","x":4,"y":1398},{"p":"c","s":"1073rpm","x":4,"y":1370},{"p":"c","s":"1073rpm","x":4,"y":1342},{"p":"c","s":"1073rpm","x":4,"y":1314},{"p":"c","s":"1073rpm","x":4,"y":1286},{"p":"c","s":"1073rpm","x":4,"y":1258},{"p":"c","s":"1073rpm","x":4,"y":1230},{"p":"c","s":"1073rpm","x":4,"y":1202},{"p":"c","s":"1073rpm","x":4,"y":1174},{"p":"c","s":"1073rpm","x":4,"y":1146},{"p":"c","s":"1073rpm","x":4,"y":1118},{"p":"c","s":"1073rpm","x":4,"y":1103},
{"p":"c","s":"1073rpm","x":4.25,"y":1856},{"p":"c","s":"1073rpm","x":4.25,"y":1793},{"p":"c","s":"1073rpm","x":4.25,"y":1615},{"p":"c","s":"1073rpm","x":4.25,"y":1542},{"p":"c","s":"1073rpm","x":4.25,"y":1514},{"p":"c","s":"1073rpm","x":4.25,"y":1486},{"p":"c","s":"1073rpm","x":4.25,"y":1469},{"p":"c","s":"1073rpm","x":4.25,"y":1406},{"p":"c","s":"1073rpm","x":4.25,"y":1378},{"p":"c","s":"1073rpm","x":4.25,"y":1350},{"p":"c","s":"1073rpm","x":4.25,"y":1322},{"p":"c","s":"1073rpm","x":4.25,"y":1294},{"p":"c","s":"1073rpm","x":4.25,"y":1266},{"p":"c","s":"1073rpm","x":4.25,"y":1238},
{"p":"a","s":"1173rpm","x":2,"y":6165},{"p":"a","s":"1173rpm","x":2,"y":6160},{"p":"a","s":"1173rpm","x":2,"y":6151},{"p":"a","s":"1173rpm","x":2,"y":6146},{"p":"a","s":"1173rpm","x":2,"y":6141},{"p":"a","s":"1173rpm","x":2,"y":6137},{"p":"a","s":"1173rpm","x":2,"y":6132},{"p":"a","s":"1173rpm","x":2,"y":6125},{"p":"a","s":"1173rpm","x":2,"y":6120},{"p":"a","s":"1173rpm","x":2,"y":6116},
{"p":"a","s":"1173rpm","x":2.25,"y":6170},{"p":"a","s":"1173rpm","x":2.25,"y":6165},{"p":"a","s":"1173rpm","x":2.25,"y":6160},{"p":"a","s":"1173rpm","x":2.25,"y":6156},{"p":"a","s":"1173rpm","x":2.25,"y":6151},{"p":"a","s":"1173rpm","x":2.25,"y":6146},{"p":"a","s":"1173rpm","x":2.25,"y":6141},{"p":"a","s":"1173rpm","x":2.25,"y":6136},{"p":"a","s":"1173rpm","x":2.25,"y":6131},{"p":"a","s":"1173rpm","x":2.25,"y":6126},{"p":"a","s":"1173rpm","x":2.25,"y":6122},{"p":"a","s":"1173rpm","x":2.25,"y":6118},
{"p":"a","s":"1173rpm","x":2.5,"y":6171},{"p":"a","s":"1173rpm","x":2.5,"y":6166},{"p":"a","s":"1173rpm","x":2.5,"y":6162},{"p":"a","s":"1173rpm","x":2.5,"y":6157},{"p":"a","s":"1173rpm","x":2.5,"y":6152},{"p":"a","s":"1173rpm","x":2.5,"y":6147},{"p":"a","s":"1173rpm","x":2.5,"y":6142},{"p":"a","s":"1173rpm","x":2.5,"y":6137},{"p":"a","s":"1173rpm","x":2.5,"y":6132},{"p":"a","s":"1173rpm","x":2.5,"y":6127},{"p":"a","s":"1173rpm","x":2.5,"y":6121},
{"p":"a","s":"1173rpm","x":2.75,"y":6177},{"p":"a","s":"1173rpm","x":2.75,"y":6170},{"p":"a","s":"1173rpm","x":2.75,"y":6165},{"p":"a","s":"1173rpm","x":2.75,"y":6158},{"p":"a","s":"1173rpm","x":2.75,"y":6153},{"p":"a","s":"1173rpm","x":2.75,"y":6148},{"p":"a","s":"1173rpm","x":2.75,"y":6143},{"p":"a","s":"1173rpm","x":2.75,"y":6138},{"p":"a","s":"1173rpm","x":2.75,"y":6133},{"p":"a","s":"1173rpm","x":2.75,"y":6129},{"p":"a","s":"1173rpm","x":2.75,"y":6124},{"p":"a","s":"1173rpm","x":2.75,"y":6121},
{"p":"a","s":"1173rpm","x":3,"y":6180},{"p":"a","s":"1173rpm","x":3,"y":6167},{"p":"a","s":"1173rpm","x":3,"y":6160},{"p":"a","s":"1173rpm","x":3,"y":6155},{"p":"a","s":"1173rpm","x":3,"y":6150},{"p":"a","s":"1173rpm","x":3,"y":6145},{"p":"a","s":"1173rpm","x":3,"y":6140},{"p":"a","s":"1173rpm","x":3,"y":6135},{"p":"a","s":"1173rpm","x":3,"y":6130},{"p":"a","s":"1173rpm","x":3,"y":6124},
{"p":"a","s":"1173rpm","x":3.25,"y":6178},{"p":"a","s":"1173rpm","x":3.25,"y":6171},{"p":"a","s":"1173rpm","x":3.25,"y":6166},{"p":"a","s":"1173rpm","x":3.25,"y":6161},{"p":"a","s":"1173rpm","x":3.25,"y":6156},{"p":"a","s":"1173rpm","x":3.25,"y":6151},{"p":"a","s":"1173rpm","x":3.25,"y":6146},{"p":"a","s":"1173rpm","x":3.25,"y":6141},{"p":"a","s":"1173rpm","x":3.25,"y":6136},{"p":"a","s":"1173rpm","x":3.25,"y":6131},{"p":"a","s":"1173rpm","x":3.25,"y":6128},
{"p":"a","s":"1173rpm","x":3.5,"y":6177},{"p":"a","s":"1173rpm","x":3.5,"y":6173},{"p":"a","s":"1173rpm","x":3.5,"y":6168},{"p":"a","s":"1173rpm","x":3.5,"y":6163},{"p":"a","s":"1173rpm","x":3.5,"y":6158},{"p":"a","s":"1173rpm","x":3.5,"y":6153},{"p":"a","s":"1173rpm","x":3.5,"y":6148},{"p":"a","s":"1173rpm","x":3.5,"y":6143},{"p":"a","s":"1173rpm","x":3.5,"y":6138},{"p":"a","s":"1173rpm","x":3.5,"y":6133},{"p":"a","s":"1173rpm","x":3.5,"y":6126},
{"p":"a","s":"1173rpm","x":3.75,"y":6177},{"p":"a","s":"1173rpm","x":3.75,"y":6172},{"p":"a","s":"1173rpm","x":3.75,"y":6167},{"p":"a","s":"1173rpm","x":3.75,"y":6162},{"p":"a","s":"1173rpm","x":3.75,"y":6157},{"p":"a","s":"1173rpm","x":3.75,"y":6152},{"p":"a","s":"1173rpm","x":3.75,"y":6147},{"p":"a","s":"1173rpm","x":3.75,"y":6142},{"p":"a","s":"1173rpm","x":3.75,"y":6137},{"p":"a","s":"1173rpm","x":3.75,"y":6133},{"p":"a","s":"1173rpm","x":3.75,"y":6125},
{"p":"a","s":"1173rpm","x":4,"y":6181},{"p":"a","s":"1173rpm","x":4,"y":6174},{"p":"a","s":"1173rpm","x":4,"y":6169},{"p":"a","s":"1173rpm","x":4,"y":6163},{"p":"a","s":"1173rpm","x":4,"y":6158},{"p":"a","s":"1173rpm","x":4,"y":6153},{"p":"a","s":"1173rpm","x":4,"y":6148},{"p":"a","s":"1173rpm","x":4,"y":6143},{"p":"a","s":"1173rpm","x":4,"y":6138},{"p":"a","s":"1173rpm","x":4,"y":6128},{"p":"a","s":"1173rpm","x":4,"y":6122},
{"p":"a","s":"1173rpm","x":4.25,"y":6184},{"p":"a","s":"1173rpm","x":4.25,"y":6179},{"p":"a","s":"1173rpm","x":4.25,"y":6174},{"p":"a","s":"1173rpm","x":4.25,"y":6169},{"p":"a","s":"1173rpm","x":4.25,"y":6165},{"p":"a","s":"1173rpm","x":4.25,"y":6160},{"p":"a","s":"1173rpm","x":4.25,"y":6155},{"p":"a","s":"1173rpm","x":4.25,"y":6150},{"p":"a","s":"1173rpm","x":4.25,"y":6145},{"p":"a","s":"1173rpm","x":4.25,"y":6140},{"p":"a","s":"1173rpm","x":4.25,"y":6133},{"p":"a","s":"1173rpm","x":4.25,"y":6120},{"p":"a","s":"1173rpm","x":4.25,"y":6117},
{"p":"b","s":"1173rpm","x":2,"y":1430},{"p":"b","s":"1173rpm","x":2,"y":1418},{"p":"b","s":"1173rpm","x":2,"y":1395},{"p":"b","s":"1173rpm","x":2,"y":1383},{"p":"b","s":"1173rpm","x":2,"y":1371},{"p":"b","s":"1173rpm","x":2,"y":1359},{"p":"b","s":"1173rpm","x":2,"y":1347},{"p":"b","s":"1173rpm","x":2,"y":1335},{"p":"b","s":"1173rpm","x":2,"y":1323},{"p":"b","s":"1173rpm","x":2,"y":1311},{"p":"b","s":"1173rpm","x":2,"y":1299},
{"p":"b","s":"1173rpm","x":2.25,"y":1430},{"p":"b","s":"1173rpm","x":2.25,"y":1418},{"p":"b","s":"1173rpm","x":2.25,"y":1406},{"p":"b","s":"1173rpm","x":2.25,"y":1394},{"p":"b","s":"1173rpm","x":2.25,"y":1382},{"p":"b","s":"1173rpm","x":2.25,"y":1370},{"p":"b","s":"1173rpm","x":2.25,"y":1358},{"p":"b","s":"1173rpm","x":2.25,"y":1346},{"p":"b","s":"1173rpm","x":2.25,"y":1334},{"p":"b","s":"1173rpm","x":2.25,"y":1322},{"p":"b","s":"1173rpm","x":2.25,"y":1312},
{"p":"b","s":"1173rpm","x":2.5,"y":1448},{"p":"b","s":"1173rpm","x":2.5,"y":1436},{"p":"b","s":"1173rpm","x":2.5,"y":1427},{"p":"b","s":"1173rpm","x":2.5,"y":1415},{"p":"b","s":"1173rpm","x":2.5,"y":1403},{"p":"b","s":"1173rpm","x":2.5,"y":1391},{"p":"b","s":"1173rpm","x":2.5,"y":1379},{"p":"b","s":"1173rpm","x":2.5,"y":1367},{"p":"b","s":"1173rpm","x":2.5,"y":1355},{"p":"b","s":"1173rpm","x":2.5,"y":1343},{"p":"b","s":"1173rpm","x":2.5,"y":1331},{"p":"b","s":"1173rpm","x":2.5,"y":1322},
{"p":"b","s":"1173rpm","x":2.75,"y":1457},{"p":"b","s":"1173rpm","x":2.75,"y":1447},{"p":"b","s":"1173rpm","x":2.75,"y":1430},{"p":"b","s":"1173rpm","x":2.75,"y":1418},{"p":"b","s":"1173rpm","x":2.75,"y":1406},{"p":"b","s":"1173rpm","x":2.75,"y":1394},{"p":"b","s":"1173rpm","x":2.75,"y":1382},{"p":"b","s":"1173rpm","x":2.75,"y":1370},{"p":"b","s":"1173rpm","x":2.75,"y":1358},{"p":"b","s":"1173rpm","x":2.75,"y":1346},{"p":"b","s":"1173rpm","x":2.75,"y":1334},{"p":"b","s":"1173rpm","x":2.75,"y":1316},
{"p":"b","s":"1173rpm","x":3,"y":1459},{"p":"b","s":"1173rpm","x":3,"y":1446},{"p":"b","s":"1173rpm","x":3,"y":1434},{"p":"b","s":"1173rpm","x":3,"y":1422},{"p":"b","s":"1173rpm","x":3,"y":1410},{"p":"b","s":"1173rpm","x":3,"y":1398},{"p":"b","s":"1173rpm","x":3,"y":1386},{"p":"b","s":"1173rpm","x":3,"y":1374},{"p":"b","s":"1173rpm","x":3,"y":1362},{"p":"b","s":"1173rpm","x":3,"y":1350},{"p":"b","s":"1173rpm","x":3,"y":1338},{"p":"b","s":"1173rpm","x":3,"y":1332},{"p":"b","s":"1173rpm","x":3,"y":1309},
{"p":"b","s":"1173rpm","x":3.25,"y":1449},{"p":"b","s":"1173rpm","x":3.25,"y":1440},{"p":"b","s":"1173rpm","x":3.25,"y":1430},{"p":"b","s":"1173rpm","x":3.25,"y":1411},{"p":"b","s":"1173rpm","x":3.25,"y":1399},{"p":"b","s":"1173rpm","x":3.25,"y":1387},{"p":"b","s":"1173rpm","x":3.25,"y":1375},{"p":"b","s":"1173rpm","x":3.25,"y":1363},{"p":"b","s":"1173rpm","x":3.25,"y":1351},{"p":"b","s":"1173rpm","x":3.25,"y":1339},{"p":"b","s":"1173rpm","x":3.25,"y":1327},{"p":"b","s":"1173rpm","x":3.25,"y":1322},{"p":"b","s":"1173rpm","x":3.25,"y":1306},
{"p":"b","s":"1173rpm","x":3.5,"y":1443},{"p":"b","s":"1173rpm","x":3.5,"y":1436},{"p":"b","s":"1173rpm","x":3.5,"y":1427},{"p":"b","s":"1173rpm","x":3.5,"y":1411},{"p":"b","s":"1173rpm","x":3.5,"y":1399},{"p":"b","s":"1173rpm","x":3.5,"y":1387},{"p":"b","s":"1173rpm","x":3.5,"y":1375},{"p":"b","s":"1173rpm","x":3.5,"y":1363},{"p":"b","s":"1173rpm","x":3.5,"y":1351},{"p":"b","s":"1173rpm","x":3.5,"y":1339},{"p":"b","s":"1173rpm","x":3.5,"y":1327},{"p":"b","s":"1173rpm","x":3.5,"y":1312},{"p":"b","s":"1173rpm","x":3.5,"y":1306},{"p":"b","s":"1173rpm","x":3.5,"y":1290},
{"p":"b","s":"1173rpm","x":3.75,"y":1446},{"p":"b","s":"1173rpm","x":3.75,"y":1430},{"p":"b","s":"1173rpm","x":3.75,"y":1418},{"p":"b","s":"1173rpm","x":3.75,"y":1406},{"p":"b","s":"1173rpm","x":3.75,"y":1394},{"p":"b","s":"1173rpm","x":3.75,"y":1382},{"p":"b","s":"1173rpm","x":3.75,"y":1370},{"p":"b","s":"1173rpm","x":3.75,"y":1358},{"p":"b","s":"1173rpm","x":3.75,"y":1346},{"p":"b","s":"1173rpm","x":3.75,"y":1334},{"p":"b","s":"1173rpm","x":3.75,"y":1325},{"p":"b","s":"1173rpm","x":3.75,"y":1306},{"p":"b","s":"1173rpm","x":3.75,"y":1277},
{"p":"b","s":"1173rpm","x":4,"y":1451},{"p":"b","s":"1173rpm","x":4,"y":1424},{"p":"b","s":"1173rpm","x":4,"y":1412},{"p":"b","s":"1173rpm","x":4,"y":1400},{"p":"b","s":"1173rpm","x":4,"y":1388},{"p":"b","s":"1173rpm","x":4,"y":1376},{"p":"b","s":"1173rpm","x":4,"y":1364},{"p":"b","s":"1173rpm","x":4,"y":1352},{"p":"b","s":"1173rpm","x":4,"y":1340},{"p":"b","s":"1173rpm","x":4,"y":1328},{"p":"b","s":"1173rpm","x":4,"y":1309},{"p":"b","s":"1173rpm","x":4,"y":1271},
{"p":"b","s":"1173rpm","x":4.25,"y":1474},{"p":"b","s":"1173rpm","x":4.25,"y":1430},{"p":"b","s":"1173rpm","x":4.25,"y":1418},{"p":"b","s":"1173rpm","x":4.25,"y":1406},{"p":"b","s":"1173rpm","x":4.25,"y":1394},{"p":"b","s":"1173rpm","x":4.25,"y":1382},{"p":"b","s":"1173rpm","x":4.25,"y":1370},{"p":"b","s":"1173rpm","x":4.25,"y":1358},{"p":"b","s":"1173rpm","x":4.25,"y":1346},{"p":"b","s":"1173rpm","x":4.25,"y":1334},{"p":"b","s":"1173rpm","x":4.25,"y":1322},{"p":"b","s":"1173rpm","x":4.25,"y":1271},
{"p":"c","s":"1173rpm","x":2,"y":1291},{"p":"c","s":"1173rpm","x":2,"y":1238},{"p":"c","s":"1173rpm","x":2,"y":1210},{"p":"c","s":"1173rpm","x":2,"y":1186},{"p":"c","s":"1173rpm","x":2,"y":1158},{"p":"c","s":"1173rpm","x":2,"y":1130},{"p":"c","s":"1173rpm","x":2,"y":1108},{"p":"c","s":"1173rpm","x":2,"y":1080},{"p":"c","s":"1173rpm","x":2,"y":1052},{"p":"c","s":"1173rpm","x":2,"y":1029},{"p":"c","s":"1173rpm","x":2,"y":1003},{"p":"c","s":"1173rpm","x":2,"y":956},{"p":"c","s":"1173rpm","x":2,"y":890},
{"p":"c","s":"1173rpm","x":2.25,"y":1333},{"p":"c","s":"1173rpm","x":2.25,"y":1291},{"p":"c","s":"1173rpm","x":2.25,"y":1263},{"p":"c","s":"1173rpm","x":2.25,"y":1235},{"p":"c","s":"1173rpm","x":2.25,"y":1207},{"p":"c","s":"1173rpm","x":2.25,"y":1179},{"p":"c","s":"1173rpm","x":2.25,"y":1151},{"p":"c","s":"1173rpm","x":2.25,"y":1123},{"p":"c","s":"1173rpm","x":2.25,"y":1095},{"p":"c","s":"1173rpm","x":2.25,"y":1067},{"p":"c","s":"1173rpm","x":2.25,"y":1050},{"p":"c","s":"1173rpm","x":2.25,"y":982},{"p":"c","s":"1173rpm","x":2.25,"y":940},
{"p":"c","s":"1173rpm","x":2.5,"y":1374},{"p":"c","s":"1173rpm","x":2.5,"y":1296},{"p":"c","s":"1173rpm","x":2.5,"y":1259},{"p":"c","s":"1173rpm","x":2.5,"y":1231},{"p":"c","s":"1173rpm","x":2.5,"y":1218},{"p":"c","s":"1173rpm","x":2.5,"y":1190},{"p":"c","s":"1173rpm","x":2.5,"y":1162},{"p":"c","s":"1173rpm","x":2.5,"y":1134},{"p":"c","s":"1173rpm","x":2.5,"y":1106},{"p":"c","s":"1173rpm","x":2.5,"y":1078},{"p":"c","s":"1173rpm","x":2.5,"y":1050},{"p":"c","s":"1173rpm","x":2.5,"y":1029},
{"p":"c","s":"1173rpm","x":2.75,"y":1395},{"p":"c","s":"1173rpm","x":2.75,"y":1333},{"p":"c","s":"1173rpm","x":2.75,"y":1305},{"p":"c","s":"1173rpm","x":2.75,"y":1277},{"p":"c","s":"1173rpm","x":2.75,"y":1249},{"p":"c","s":"1173rpm","x":2.75,"y":1221},{"p":"c","s":"1173rpm","x":2.75,"y":1193},{"p":"c","s":"1173rpm","x":2.75,"y":1165},{"p":"c","s":"1173rpm","x":2.75,"y":1137},{"p":"c","s":"1173rpm","x":2.75,"y":1109},{"p":"c","s":"1173rpm","x":2.75,"y":1082},{"p":"c","s":"1173rpm","x":2.75,"y":1035},
{"p":"c","s":"1173rpm","x":3,"y":1406},{"p":"c","s":"1173rpm","x":3,"y":1364},{"p":"c","s":"1173rpm","x":3,"y":1336},{"p":"c","s":"1173rpm","x":3,"y":1308},{"p":"c","s":"1173rpm","x":3,"y":1280},{"p":"c","s":"1173rpm","x":3,"y":1252},{"p":"c","s":"1173rpm","x":3,"y":1228},{"p":"c","s":"1173rpm","x":3,"y":1200},{"p":"c","s":"1173rpm","x":3,"y":1172},{"p":"c","s":"1173rpm","x":3,"y":1144},{"p":"c","s":"1173rpm","x":3,"y":1116},{"p":"c","s":"1173rpm","x":3,"y":1088},{"p":"c","s":"1173rpm","x":3,"y":1060},{"p":"c","s":"1173rpm","x":3,"y":1040},
{"p":"c","s":"1173rpm","x":3.25,"y":1469},{"p":"c","s":"1173rpm","x":3.25,"y":1437},{"p":"c","s":"1173rpm","x":3.25,"y":1409},{"p":"c","s":"1173rpm","x":3.25,"y":1381},{"p":"c","s":"1173rpm","x":3.25,"y":1353},{"p":"c","s":"1173rpm","x":3.25,"y":1325},{"p":"c","s":"1173rpm","x":3.25,"y":1297},{"p":"c","s":"1173rpm","x":3.25,"y":1269},{"p":"c","s":"1173rpm","x":3.25,"y":1241},{"p":"c","s":"1173rpm","x":3.25,"y":1213},{"p":"c","s":"1173rpm","x":3.25,"y":1185},{"p":"c","s":"1173rpm","x":3.25,"y":1157},{"p":"c","s":"1173rpm","x":3.25,"y":1129},{"p":"c","s":"1173rpm","x":3.25,"y":1103},{"p":"c","s":"1173rpm","x":3.25,"y":1061},
{"p":"c","s":"1173rpm","x":3.5,"y":1511},{"p":"c","s":"1173rpm","x":3.5,"y":1483},{"p":"c","s":"1173rpm","x":3.5,"y":1448},{"p":"c","s":"1173rpm","x":3.5,"y":1420},{"p":"c","s":"1173rpm","x":3.5,"y":1374},{"p":"c","s":"1173rpm","x":3.5,"y":1346},{"p":"c","s":"1173rpm","x":3.5,"y":1318},{"p":"c","s":"1173rpm","x":3.5,"y":1290},{"p":"c","s":"1173rpm","x":3.5,"y":1262},{"p":"c","s":"1173rpm","x":3.5,"y":1234},{"p":"c","s":"1173rpm","x":3.5,"y":1206},{"p":"c","s":"1173rpm","x":3.5,"y":1178},{"p":"c","s":"1173rpm","x":3.5,"y":1150},{"p":"c","s":"1173rpm","x":3.5,"y":1122},{"p":"c","s":"1173rpm","x":3.5,"y":1094},{"p":"c","s":"1173rpm","x":3.5,"y":1066},
{"p":"c","s":"1173rpm","x":3.75,"y":1605},{"p":"c","s":"1173rpm","x":3.75,"y":1577},{"p":"c","s":"1173rpm","x":3.75,"y":1549},{"p":"c","s":"1173rpm","x":3.75,"y":1521},{"p":"c","s":"1173rpm","x":3.75,"y":1493},{"p":"c","s":"1173rpm","x":3.75,"y":1465},{"p":"c","s":"1173rpm","x":3.75,"y":1437},{"p":"c","s":"1173rpm","x":3.75,"y":1409},{"p":"c","s":"1173rpm","x":3.75,"y":1381},{"p":"c","s":"1173rpm","x":3.75,"y":1353},{"p":"c","s":"1173rpm","x":3.75,"y":1311},{"p":"c","s":"1173rpm","x":3.75,"y":1283},{"p":"c","s":"1173rpm","x":3.75,"y":1255},{"p":"c","s":"1173rpm","x":3.75,"y":1227},{"p":"c","s":"1173rpm","x":3.75,"y":1199},{"p":"c","s":"1173rpm","x":3.75,"y":1171},{"p":"c","s":"1173rpm","x":3.75,"y":1143},{"p":"c","s":"1173rpm","x":3.75,"y":1113},
{"p":"c","s":"1173rpm","x":4,"y":1704},{"p":"c","s":"1173rpm","x":4,"y":1646},{"p":"c","s":"1173rpm","x":4,"y":1636},{"p":"c","s":"1173rpm","x":4,"y":1594},{"p":"c","s":"1173rpm","x":4,"y":1566},{"p":"c","s":"1173rpm","x":4,"y":1538},{"p":"c","s":"1173rpm","x":4,"y":1510},{"p":"c","s":"1173rpm","x":4,"y":1482},{"p":"c","s":"1173rpm","x":4,"y":1454},{"p":"c","s":"1173rpm","x":4,"y":1426},{"p":"c","s":"1173rpm","x":4,"y":1398},{"p":"c","s":"1173rpm","x":4,"y":1370},{"p":"c","s":"1173rpm","x":4,"y":1342},{"p":"c","s":"1173rpm","x":4,"y":1314},{"p":"c","s":"1173rpm","x":4,"y":1286},{"p":"c","s":"1173rpm","x":4,"y":1258},{"p":"c","s":"1173rpm","x":4,"y":1230},{"p":"c","s":"1173rpm","x":4,"y":1202},{"p":"c","s":"1173rpm","x":4,"y":1174},{"p":"c","s":"1173rpm","x":4,"y":1155},
{"p":"c","s":"1173rpm","x":4.25,"y":1777},{"p":"c","s":"1173rpm","x":4.25,"y":1709},{"p":"c","s":"1173rpm","x":4.25,"y":1681},{"p":"c","s":"1173rpm","x":4.25,"y":1653},{"p":"c","s":"1173rpm","x":4.25,"y":1625},{"p":"c","s":"1173rpm","x":4.25,"y":1597},{"p":"c","s":"1173rpm","x":4.25,"y":1569},{"p":"c","s":"1173rpm","x":4.25,"y":1541},{"p":"c","s":"1173rpm","x":4.25,"y":1513},{"p":"c","s":"1173rpm","x":4.25,"y":1485},{"p":"c","s":"1173rpm","x":4.25,"y":1469},{"p":"c","s":"1173rpm","x":4.25,"y":1406},{"p":"c","s":"1173rpm","x":4.25,"y":1378},{"p":"c","s":"1173rpm","x":4.25,"y":1350},{"p":"c","s":"1173rpm","x":4.25,"y":1322},{"p":"c","s":"1173rpm","x":4.25,"y":1294},{"p":"c","s":"1173rpm","x":4.25,"y":1266},{"p":"c","s":"1173rpm","x":4.25,"y":1238},{"p":"c","s":"1173rpm","x":4.25,"y":1207},{"p":"c","s":"1173rpm","x":4.25,"y":1165}
]
},
"spacing": 324,
"bounds": "flush",
"resolve": {"scale": {"y": "independent", "x": "independent", "color": "independent"}, "axis": {"y": "independent", "x": "independent"}, "legend": {"color": "independent"}},
"hconcat": [
{
 "width": 1064, "height": 710,
 "title": {"text": "(a)"},
 "layer": [
  {"data": {"name": "grid"}, "transform": [{"filter": "datum.p == 'a'"}],
   "mark": {"type": "rule", "stroke": "#666666", "strokeWidth": 1.9, "strokeDash": [2, 2]},
   "encoding": {"x": {"field": "x1", "type": "quantitative", "title": "Active power(MW)", "scale": {"domain": [1.75, 4.5], "nice": false, "zero": false}}, "x2": {"field": "x2"}, "y": {"field": "y1", "type": "quantitative", "title": "DEL_RootMxb1", "scale": {"domain": [5900, 6200], "nice": false, "zero": false}}, "y2": {"field": "y2"}}},
  {"data": {"name": "pts"}, "transform": [{"filter": "datum.p == 'a'"}],
   "mark": {"type": "circle", "size": 180, "opacity": 1},
   "encoding": {
    "x": {"field": "x", "type": "quantitative", "title": "Active power(MW)", "scale": {"domain": [1.75, 4.5], "nice": false, "zero": false}, "axis": {"values": [2, 2.5, 3, 3.5, 4, 4.5]}},
    "y": {"field": "y", "type": "quantitative", "title": "DEL_RootMxb1", "scale": {"domain": [5900, 6200], "nice": false, "zero": false}, "axis": {"values": [5900, 5950, 6000, 6050, 6100, 6150, 6200]}},
    "color": {"field": "s", "type": "nominal", "scale": {"domain": ["973rpm", "1073rpm", "1173rpm"], "range": ["#ff0000", "#00ff00", "#0000ff"]}, "legend": {"title": null}}}},
  {"data": {"name": "fit"}, "transform": [{"filter": "datum.p == 'a'"}],
   "mark": {"type": "line", "strokeWidth": 8.5, "interpolate": "monotone"},
   "encoding": {
    "x": {"field": "x", "type": "quantitative", "title": "Active power(MW)", "scale": {"domain": [1.75, 4.5], "nice": false, "zero": false}},
    "y": {"field": "y", "type": "quantitative", "title": "DEL_RootMxb1", "scale": {"domain": [5900, 6200], "nice": false, "zero": false}},
    "color": {"field": "s", "type": "nominal", "scale": {"domain": ["973rpm", "1073rpm", "1173rpm"], "range": ["#ff0000", "#00ff00", "#0000ff"]}, "legend": null}}}
 ]
},
{
 "width": 1064, "height": 710,
 "title": {"text": "(b)"},
 "layer": [
  {"data": {"name": "grid"}, "transform": [{"filter": "datum.p == 'b'"}],
   "mark": {"type": "rule", "stroke": "#666666", "strokeWidth": 1.9, "strokeDash": [2, 2]},
   "encoding": {"x": {"field": "x1", "type": "quantitative", "title": "Active power(MW)", "scale": {"domain": [1.75, 4.5], "nice": false, "zero": false}}, "x2": {"field": "x2"}, "y": {"field": "y1", "type": "quantitative", "title": "DEL_RootMyb1", "scale": {"domain": [800, 1500], "nice": false, "zero": false}}, "y2": {"field": "y2"}}},
  {"data": {"name": "pts"}, "transform": [{"filter": "datum.p == 'b'"}],
   "mark": {"type": "circle", "size": 180, "opacity": 1},
   "encoding": {
    "x": {"field": "x", "type": "quantitative", "title": "Active power(MW)", "scale": {"domain": [1.75, 4.5], "nice": false, "zero": false}, "axis": {"values": [2, 2.5, 3, 3.5, 4, 4.5]}},
    "y": {"field": "y", "type": "quantitative", "title": "DEL_RootMyb1", "scale": {"domain": [800, 1500], "nice": false, "zero": false}, "axis": {"values": [800, 900, 1000, 1100, 1200, 1300, 1400, 1500]}},
    "color": {"field": "s", "type": "nominal", "scale": {"domain": ["973rpm", "1073rpm", "1173rpm"], "range": ["#ff0000", "#00ff00", "#0000ff"]}, "legend": {"title": null}}}},
  {"data": {"name": "fit"}, "transform": [{"filter": "datum.p == 'b'"}],
   "mark": {"type": "line", "strokeWidth": 8.5, "interpolate": "monotone"},
   "encoding": {
    "x": {"field": "x", "type": "quantitative", "title": "Active power(MW)", "scale": {"domain": [1.75, 4.5], "nice": false, "zero": false}},
    "y": {"field": "y", "type": "quantitative", "title": "DEL_RootMyb1", "scale": {"domain": [800, 1500], "nice": false, "zero": false}},
    "color": {"field": "s", "type": "nominal", "scale": {"domain": ["973rpm", "1073rpm", "1173rpm"], "range": ["#ff0000", "#00ff00", "#0000ff"]}, "legend": null}}}
 ]
},
{
 "width": 1064, "height": 710,
 "title": {"text": "(c)"},
 "layer": [
  {"data": {"name": "grid"}, "transform": [{"filter": "datum.p == 'c'"}],
   "mark": {"type": "rule", "stroke": "#666666", "strokeWidth": 1.9, "strokeDash": [2, 2]},
   "encoding": {"x": {"field": "x1", "type": "quantitative", "title": "Active power(MW)", "scale": {"domain": [1.75, 4.5], "nice": false, "zero": false}}, "x2": {"field": "x2"}, "y": {"field": "y1", "type": "quantitative", "title": "DEL_TwrBsMxt", "scale": {"domain": [885, 2500], "nice": false, "zero": false}}, "y2": {"field": "y2"}}},
  {"data": {"name": "pts"}, "transform": [{"filter": "datum.p == 'c'"}],
   "mark": {"type": "circle", "size": 180, "opacity": 1},
   "encoding": {
    "x": {"field": "x", "type": "quantitative", "title": "Active power(MW)", "scale": {"domain": [1.75, 4.5], "nice": false, "zero": false}, "axis": {"values": [2, 2.5, 3, 3.5, 4, 4.5]}},
    "y": {"field": "y", "type": "quantitative", "title": "DEL_TwrBsMxt", "scale": {"domain": [885, 2500], "nice": false, "zero": false}, "axis": {"values": [1000, 1500, 2000, 2500]}},
    "color": {"field": "s", "type": "nominal", "scale": {"domain": ["973rpm", "1073rpm", "1173rpm"], "range": ["#ff0000", "#00ff00", "#0000ff"]}, "legend": {"title": null}}}},
  {"data": {"name": "fit"}, "transform": [{"filter": "datum.p == 'c'"}],
   "mark": {"type": "line", "strokeWidth": 8.5, "interpolate": "monotone"},
   "encoding": {
    "x": {"field": "x", "type": "quantitative", "title": "Active power(MW)", "scale": {"domain": [1.75, 4.5], "nice": false, "zero": false}},
    "y": {"field": "y", "type": "quantitative", "title": "DEL_TwrBsMxt", "scale": {"domain": [885, 2500], "nice": false, "zero": false}},
    "color": {"field": "s", "type": "nominal", "scale": {"domain": ["973rpm", "1073rpm", "1173rpm"], "range": ["#ff0000", "#00ff00", "#0000ff"]}, "legend": null}}}
 ]
}
]
}
